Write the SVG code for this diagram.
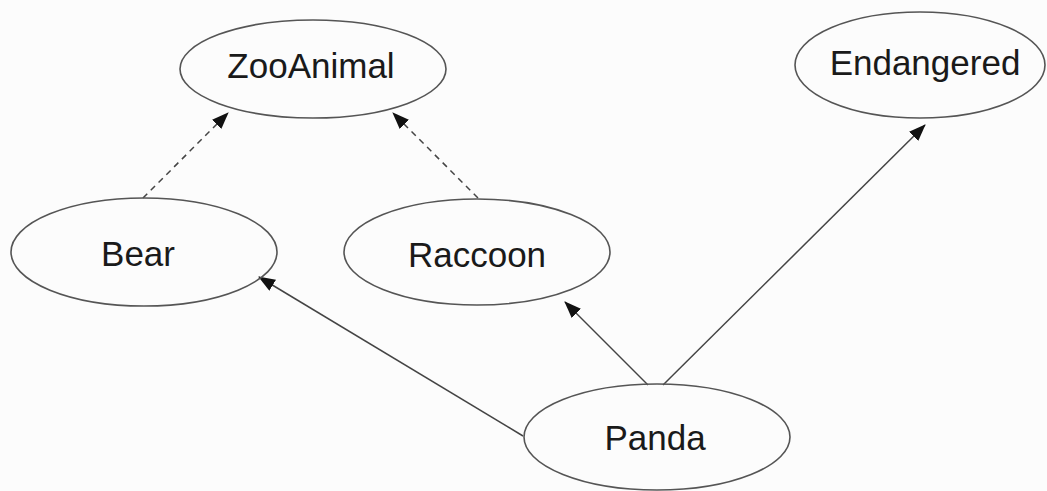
<svg xmlns="http://www.w3.org/2000/svg" width="1047" height="491" viewBox="0 0 1047 491">
<style>
.n{fill:none;stroke:#555;stroke-width:1.6}
.t{font-family:"Liberation Sans",Arial,sans-serif;font-size:35px;fill:#1a1a1a;text-anchor:middle}
.e{stroke:#444;stroke-width:1.5;fill:none}
.d{stroke-dasharray:6,5}
</style>
<defs>
<marker id="a" markerWidth="17" markerHeight="13" refX="16" refY="6.5" orient="auto" markerUnits="userSpaceOnUse">
<path d="M0,0 L17,6.5 L0,13 Z" fill="#111"/>
</marker>
</defs>
<rect width="1047" height="491" fill="#fcfcfc"/>
<g id="connectors">
<line class="e d" x1="143" y1="198" x2="228" y2="113" marker-end="url(#a)"/>
<line class="e d" x1="478" y1="198" x2="393" y2="113" marker-end="url(#a)"/>
<line class="e" x1="523" y1="436" x2="259" y2="277" marker-end="url(#a)"/>
<line class="e" x1="648" y1="385" x2="565" y2="302" marker-end="url(#a)"/>
<line class="e" x1="663" y1="385" x2="925" y2="125" marker-end="url(#a)"/>
</g>
<g id="ZooAnimal"><ellipse class="n" cx="313" cy="69" rx="133" ry="49"/><text class="t" x="311" y="78">ZooAnimal</text></g>
<g id="Endangered"><ellipse class="n" cx="920" cy="65" rx="125" ry="53"/><text class="t" x="925" y="75">Endangered</text></g>
<g id="Bear"><ellipse class="n" cx="144" cy="252" rx="133" ry="54"/><text class="t" x="138" y="266">Bear</text></g>
<g id="Raccoon"><ellipse class="n" cx="477" cy="252" rx="133" ry="53"/><text class="t" x="477" y="267">Raccoon</text></g>
<g id="Panda"><ellipse class="n" cx="657" cy="437" rx="133" ry="53"/><text class="t" x="655" y="450">Panda</text></g>
</svg>
